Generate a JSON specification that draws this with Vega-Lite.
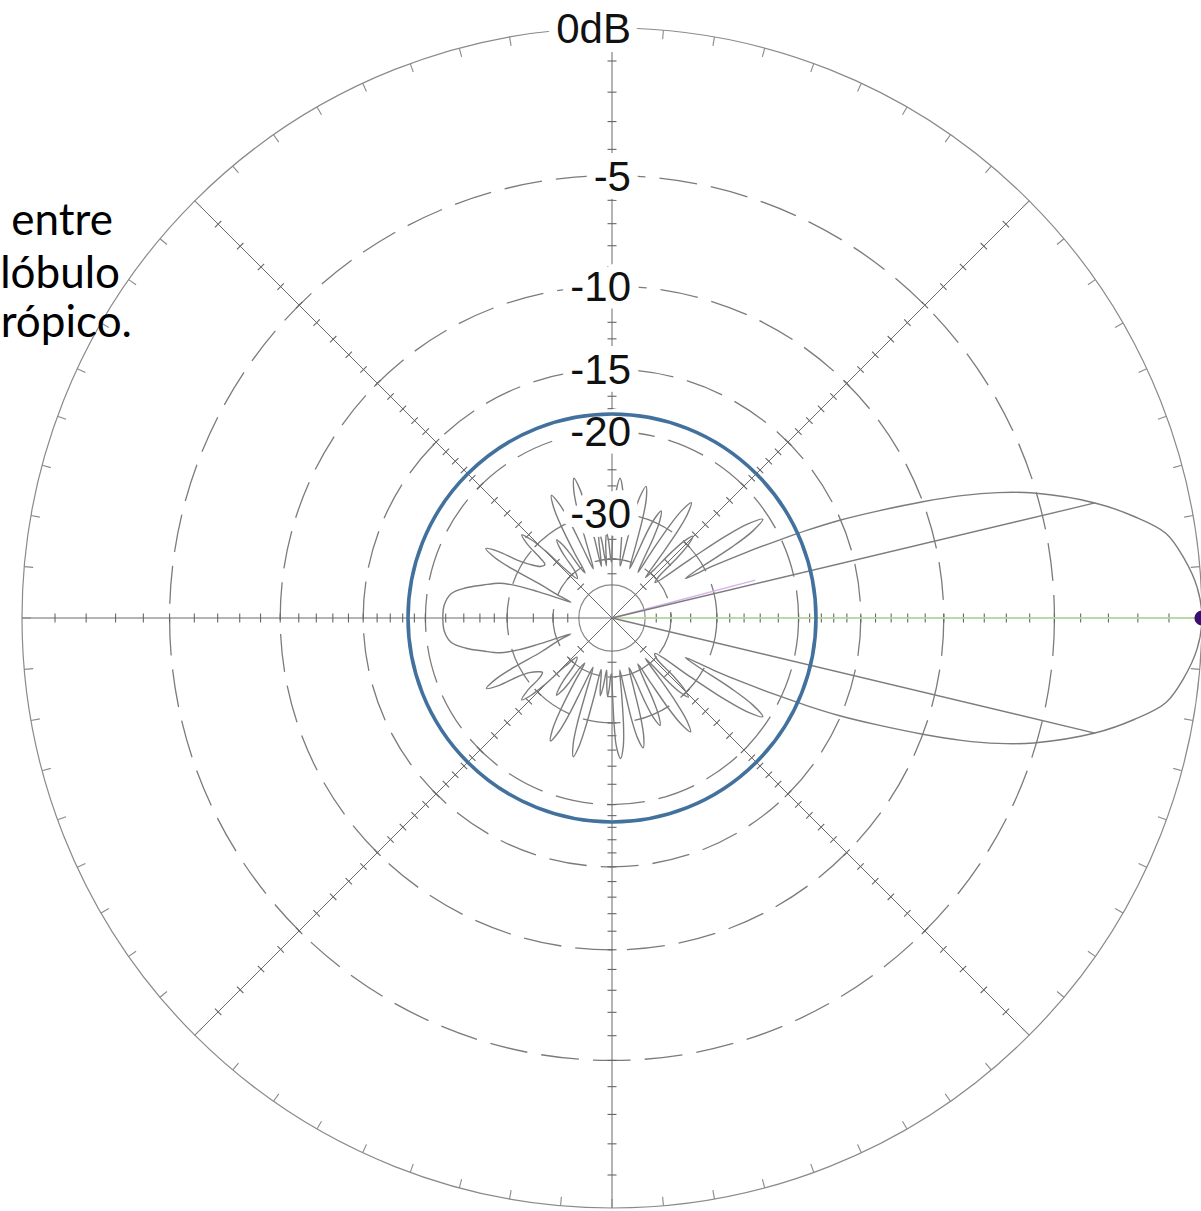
{
  "$schema": "https://vega.github.io/schema/vega-lite/v6.json",
  "width": 1201,
  "height": 1211,
  "autosize": {"type": "none"},
  "padding": 0,
  "background": "white",
  "config": {"view": {"stroke": null}},
  "datasets": {
    "pattern": [
      {"angle": -180, "db": -21.7}, {"angle": -175.5, "db": -21.8}, {"angle": -171.3, "db": -22.4}, {"angle": -168.3, "db": -23.9},
      {"angle": -165.6, "db": -25.9}, {"angle": -162.8, "db": -28}, {"angle": -161.2, "db": -31}, {"angle": -160.4, "db": -35},
      {"angle": -159.8, "db": -40}, {"angle": -159, "db": -45}, {"angle": -157, "db": -40}, {"angle": -154.4, "db": -35},
      {"angle": -153.3, "db": -29}, {"angle": -152.2, "db": -26}, {"angle": -150.7, "db": -24.5}, {"angle": -149.2, "db": -26},
      {"angle": -148.1, "db": -29}, {"angle": -146.5, "db": -31}, {"angle": -143.7, "db": -32.5}, {"angle": -142, "db": -33},
      {"angle": -140.4, "db": -31.9}, {"angle": -139.3, "db": -28.9}, {"angle": -137.8, "db": -27.4}, {"angle": -136.3, "db": -28.9},
      {"angle": -135.2, "db": -31.9}, {"angle": -134.1, "db": -37.9}, {"angle": -131.7, "db": -42}, {"angle": -128.9, "db": -40},
      {"angle": -127.8, "db": -35}, {"angle": -127, "db": -33.1}, {"angle": -125.7, "db": -31.7}, {"angle": -124.4, "db": -33.1},
      {"angle": -123.6, "db": -35}, {"angle": -122.7, "db": -40}, {"angle": -121.1, "db": -42}, {"angle": -120.3, "db": -35.8},
      {"angle": -119.2, "db": -29.8}, {"angle": -118.1, "db": -26.8}, {"angle": -116.6, "db": -25.3}, {"angle": -115.1, "db": -26.8},
      {"angle": -114, "db": -29.8}, {"angle": -112.9, "db": -35.8}, {"angle": -111.1, "db": -42}, {"angle": -109.3, "db": -35},
      {"angle": -108.2, "db": -29}, {"angle": -107.1, "db": -26}, {"angle": -105.6, "db": -24.5}, {"angle": -104.4, "db": -26},
      {"angle": -103.6, "db": -29}, {"angle": -102.8, "db": -35}, {"angle": -102, "db": -42}, {"angle": -100.6, "db": -40},
      {"angle": -99.6, "db": -37}, {"angle": -98.5, "db": -35}, {"angle": -97.4, "db": -37}, {"angle": -96.6, "db": -40},
      {"angle": -95.9, "db": -42}, {"angle": -95, "db": -40}, {"angle": -94.2, "db": -37}, {"angle": -93.2, "db": -35},
      {"angle": -92.2, "db": -37}, {"angle": -91.4, "db": -40}, {"angle": -90.6, "db": -41}, {"angle": -89.6, "db": -35.4},
      {"angle": -88.8, "db": -29.4}, {"angle": -88, "db": -26.4}, {"angle": -86.5, "db": -24.9}, {"angle": -85, "db": -26.4},
      {"angle": -83.9, "db": -29.4}, {"angle": -82.8, "db": -35.4}, {"angle": -81.5, "db": -42}, {"angle": -80.2, "db": -36.3},
      {"angle": -79.1, "db": -30.3}, {"angle": -78, "db": -27.3}, {"angle": -76.5, "db": -25.8}, {"angle": -75, "db": -27.3},
      {"angle": -73.9, "db": -30.3}, {"angle": -72.8, "db": -36.3}, {"angle": -71.2, "db": -42}, {"angle": -69.6, "db": -38.5},
      {"angle": -68.5, "db": -32.5}, {"angle": -67.4, "db": -29.5}, {"angle": -65.9, "db": -28}, {"angle": -64.4, "db": -29.5},
      {"angle": -63.3, "db": -32.5}, {"angle": -62.2, "db": -38.5}, {"angle": -60.6, "db": -42}, {"angle": -59.1, "db": -35.7},
      {"angle": -58, "db": -29.7}, {"angle": -56.9, "db": -26.7}, {"angle": -55.4, "db": -25.2}, {"angle": -53.9, "db": -26.7},
      {"angle": -52.8, "db": -29.7}, {"angle": -51.7, "db": -35.7}, {"angle": -50.7, "db": -42}, {"angle": -49.7, "db": -39.7},
      {"angle": -48.6, "db": -33.7}, {"angle": -47.5, "db": -30.7}, {"angle": -46, "db": -29.2}, {"angle": -44.5, "db": -30.7},
      {"angle": -43.4, "db": -33.7}, {"angle": -42.3, "db": -39.7}, {"angle": -39.6, "db": -41}, {"angle": -36.9, "db": -31.1},
      {"angle": -35.8, "db": -25.1}, {"angle": -34.7, "db": -22.1}, {"angle": -33.2, "db": -20.6}, {"angle": -31.7, "db": -22.1},
      {"angle": -30.6, "db": -25.1}, {"angle": -29.5, "db": -31.1}, {"angle": -28.3, "db": -34}, {"angle": -27.2, "db": -28.5},
      {"angle": -26.1, "db": -24}, {"angle": -25, "db": -20.2}, {"angle": -24.2, "db": -17.6}, {"angle": -23.2, "db": -15},
      {"angle": -21.9, "db": -12.5}, {"angle": -20.5, "db": -10}, {"angle": -19.3, "db": -8.1}, {"angle": -18, "db": -6.5},
      {"angle": -16.5, "db": -5.1}, {"angle": -13.4, "db": -3}, {"angle": -11, "db": -1.8}, {"angle": -8.7, "db": -0.9},
      {"angle": -6, "db": -0.45}, {"angle": -3, "db": -0.12}, {"angle": 0, "db": 0},
      {"angle": 3, "db": -0.12}, {"angle": 6, "db": -0.45}, {"angle": 8.7, "db": -0.9}, {"angle": 11, "db": -1.8},
      {"angle": 13.4, "db": -3}, {"angle": 16.5, "db": -5.1}, {"angle": 18, "db": -6.5}, {"angle": 19.3, "db": -8.1},
      {"angle": 20.5, "db": -10}, {"angle": 21.9, "db": -12.5}, {"angle": 23.2, "db": -15}, {"angle": 24.2, "db": -17.6},
      {"angle": 25, "db": -20.2}, {"angle": 26.1, "db": -24}, {"angle": 27.2, "db": -28.5}, {"angle": 28.3, "db": -34},
      {"angle": 29.5, "db": -31.1}, {"angle": 30.6, "db": -25.1}, {"angle": 31.7, "db": -22.1}, {"angle": 33.2, "db": -20.6},
      {"angle": 34.7, "db": -22.1}, {"angle": 35.8, "db": -25.1}, {"angle": 36.9, "db": -31.1}, {"angle": 39.5, "db": -41},
      {"angle": 41.6, "db": -38.9}, {"angle": 42.7, "db": -32.9}, {"angle": 43.8, "db": -29.9}, {"angle": 45.3, "db": -28.4},
      {"angle": 46.8, "db": -29.9}, {"angle": 47.9, "db": -32.9}, {"angle": 49, "db": -38.9}, {"angle": 50.4, "db": -42},
      {"angle": 51.8, "db": -35.5}, {"angle": 52.9, "db": -29.5}, {"angle": 54, "db": -26.5}, {"angle": 55.5, "db": -25},
      {"angle": 57, "db": -26.5}, {"angle": 58.1, "db": -29.5}, {"angle": 59.2, "db": -35.5}, {"angle": 60.4, "db": -42},
      {"angle": 61.6, "db": -38.5}, {"angle": 62.7, "db": -32.5}, {"angle": 63.8, "db": -29.5}, {"angle": 65.3, "db": -28},
      {"angle": 66.8, "db": -29.5}, {"angle": 67.9, "db": -32.5}, {"angle": 69, "db": -38.5}, {"angle": 70.4, "db": -42},
      {"angle": 71.8, "db": -36}, {"angle": 72.9, "db": -30}, {"angle": 74, "db": -27}, {"angle": 75.5, "db": -25.5},
      {"angle": 77, "db": -27}, {"angle": 78.1, "db": -30}, {"angle": 79.2, "db": -36}, {"angle": 81.1, "db": -42},
      {"angle": 83, "db": -35.5}, {"angle": 84.1, "db": -29.5}, {"angle": 85.2, "db": -26.5}, {"angle": 86.7, "db": -25},
      {"angle": 88, "db": -26.5}, {"angle": 88.9, "db": -29.5}, {"angle": 89.7, "db": -35.5}, {"angle": 90.5, "db": -41},
      {"angle": 91.6, "db": -39}, {"angle": 92.5, "db": -35.5}, {"angle": 93.6, "db": -33.5}, {"angle": 94.7, "db": -35.5},
      {"angle": 95.4, "db": -39}, {"angle": 96.1, "db": -42}, {"angle": 96.9, "db": -39}, {"angle": 97.6, "db": -35},
      {"angle": 98.6, "db": -33}, {"angle": 99.6, "db": -35}, {"angle": 100.5, "db": -39}, {"angle": 101.7, "db": -42},
      {"angle": 102.4, "db": -34.9}, {"angle": 103.2, "db": -28.9}, {"angle": 104, "db": -25.9}, {"angle": 105.2, "db": -24.4},
      {"angle": 106.7, "db": -25.9}, {"angle": 107.8, "db": -28.9}, {"angle": 108.9, "db": -34.9}, {"angle": 110.8, "db": -42},
      {"angle": 112.6, "db": -35.9}, {"angle": 113.7, "db": -29.9}, {"angle": 114.8, "db": -26.9}, {"angle": 116.3, "db": -25.4},
      {"angle": 117.8, "db": -26.9}, {"angle": 118.9, "db": -29.9}, {"angle": 120, "db": -35.9}, {"angle": 120.8, "db": -42},
      {"angle": 122.3, "db": -40}, {"angle": 123.2, "db": -35}, {"angle": 124, "db": -33}, {"angle": 125.3, "db": -31.6},
      {"angle": 126.6, "db": -33}, {"angle": 127.4, "db": -35}, {"angle": 128.5, "db": -40}, {"angle": 131.3, "db": -42},
      {"angle": 133.7, "db": -37.8}, {"angle": 134.8, "db": -31.8}, {"angle": 135.9, "db": -28.8}, {"angle": 137.4, "db": -27.3},
      {"angle": 138.9, "db": -28.8}, {"angle": 140, "db": -31.8}, {"angle": 141.5, "db": -33.5}, {"angle": 144.3, "db": -33},
      {"angle": 147, "db": -31}, {"angle": 148.6, "db": -29}, {"angle": 149.7, "db": -26}, {"angle": 151.2, "db": -24.5},
      {"angle": 152.7, "db": -26}, {"angle": 153.8, "db": -29}, {"angle": 154.9, "db": -35}, {"angle": 157, "db": -40},
      {"angle": 159, "db": -45}, {"angle": 159.8, "db": -40}, {"angle": 160.4, "db": -35}, {"angle": 161.2, "db": -31},
      {"angle": 162.8, "db": -28}, {"angle": 165.6, "db": -25.9}, {"angle": 168.3, "db": -23.9}, {"angle": 171.3, "db": -22.4},
      {"angle": 175.5, "db": -21.8}, {"angle": 180, "db": -21.7}
    ],
    "dashedRings": [{"db": -5}, {"db": -10}, {"db": -15}, {"db": -20}, {"db": -30}, {"db": -40}],
    "solidRings": [{"db": 0}, {"db": -50}],
    "spokes": [{"angle": 0}, {"angle": 45}, {"angle": 90}, {"angle": 135}, {"angle": 180}, {"angle": 225}, {"angle": 270}, {"angle": 315}],
    "axisTicks": [
      {"angle": 0, "db": [-1, -2, -3, -4, -5, -6, -7, -8, -9, -10, -11, -12, -13, -14, -15, -16, -17, -18, -19, -20, -22, -24, -26, -28, -30, -35, -40, -45]},
      {"angle": 45, "db": [-1, -2, -3, -4, -5, -6, -7, -8, -9, -10, -11, -12, -13, -14, -15, -16, -17, -18, -19, -20, -22, -24, -26, -28, -30, -35, -40, -45]},
      {"angle": 90, "db": [-1, -2, -3, -4, -5, -6, -7, -8, -9, -10, -11, -12, -13, -14, -15, -16, -17, -18, -19, -20, -22, -24, -26, -28, -30, -35, -40, -45]},
      {"angle": 135, "db": [-1, -2, -3, -4, -5, -6, -7, -8, -9, -10, -11, -12, -13, -14, -15, -16, -17, -18, -19, -20, -22, -24, -26, -28, -30, -35, -40, -45]},
      {"angle": 180, "db": [-1, -2, -3, -4, -5, -6, -7, -8, -9, -10, -11, -12, -13, -14, -15, -16, -17, -18, -19, -20, -22, -24, -26, -28, -30, -35, -40, -45]},
      {"angle": 225, "db": [-1, -2, -3, -4, -5, -6, -7, -8, -9, -10, -11, -12, -13, -14, -15, -16, -17, -18, -19, -20, -22, -24, -26, -28, -30, -35, -40, -45]},
      {"angle": 270, "db": [-1, -2, -3, -4, -5, -6, -7, -8, -9, -10, -11, -12, -13, -14, -15, -16, -17, -18, -19, -20, -22, -24, -26, -28, -30, -35, -40, -45]},
      {"angle": 315, "db": [-1, -2, -3, -4, -5, -6, -7, -8, -9, -10, -11, -12, -13, -14, -15, -16, -17, -18, -19, -20, -22, -24, -26, -28, -30, -35, -40, -45]}
    ],
    "rimTicks": [
      {"angle": [0, 5, 10, 15, 20, 25, 30, 35, 40, 45, 50, 55, 60, 65, 70, 75, 80, 85, 90, 95, 100, 105, 110, 115, 120, 125, 130, 135, 140, 145, 150, 155, 160, 165, 170, 175, 180, 185, 190, 195, 200, 205, 210, 215, 220, 225, 230, 235, 240, 245, 250, 255, 260, 265, 270, 275, 280, 285, 290, 295, 300, 305, 310, 315, 320, 325, 330, 335, 340, 345, 350, 355]}
    ],
    "levelLabels": [
      {"db": 0, "label": "0dB"}, {"db": -5, "label": "-5"}, {"db": -10, "label": "-10"},
      {"db": -15, "label": "-15"}, {"db": -20, "label": "-20"}, {"db": -30, "label": "-30"}
    ]
  },
  "layer": [
    {
      "data": {"name": "dashedRings"},
      "transform": [{"calculate": "pow(10, datum.db / 40)", "as": "amp"}],
      "mark": {"type": "point", "shape": "circle", "filled": false, "stroke": "#7b7b7b", "strokeWidth": 1.3, "strokeDash": [38, 14], "opacity": 1},
      "encoding": {
        "x": {"datum": 0, "type": "quantitative", "scale": {"domain": [-1.037288, 0.998305], "nice": false, "zero": false}, "axis": null},
        "y": {"datum": 0, "type": "quantitative", "scale": {"domain": [-1.005085, 1.047458], "nice": false, "zero": false}, "axis": null},
        "size": {"field": "amp", "type": "quantitative", "scale": {"type": "pow", "exponent": 2, "domain": [0, 1], "range": [0, 1392400], "nice": false}, "legend": null}
      }
    },
    {
      "data": {"name": "solidRings"},
      "transform": [{"calculate": "pow(10, datum.db / 40)", "as": "amp"}],
      "mark": {"type": "point", "shape": "circle", "filled": false, "stroke": "#8a8a8a", "strokeWidth": 1.2, "opacity": 1},
      "encoding": {
        "x": {"datum": 0, "type": "quantitative", "scale": {"domain": [-1.037288, 0.998305], "nice": false, "zero": false}, "axis": null},
        "y": {"datum": 0, "type": "quantitative", "scale": {"domain": [-1.005085, 1.047458], "nice": false, "zero": false}, "axis": null},
        "size": {"field": "amp", "type": "quantitative", "scale": {"type": "pow", "exponent": 2, "domain": [0, 1], "range": [0, 1392400], "nice": false}, "legend": null}
      }
    },
    {
      "data": {"name": "spokes"},
      "transform": [
        {"calculate": "cos(datum.angle * PI / 180)", "as": "x"},
        {"calculate": "sin(datum.angle * PI / 180)", "as": "y"}
      ],
      "mark": {"type": "rule", "stroke": "#6a6a6a", "strokeWidth": 1},
      "encoding": {
        "x": {"field": "x", "type": "quantitative", "scale": {"domain": [-1.037288, 0.998305], "nice": false, "zero": false}, "axis": null},
        "y": {"field": "y", "type": "quantitative", "scale": {"domain": [-1.005085, 1.047458], "nice": false, "zero": false}, "axis": null},
        "x2": {"datum": 0},
        "y2": {"datum": 0}
      }
    },
    {
      "data": {"name": "axisTicks"},
      "transform": [
        {"flatten": ["db"]},
        {"calculate": "pow(10, datum.db / 40)", "as": "amp"},
        {"calculate": "datum.amp * cos(datum.angle * PI / 180)", "as": "x"},
        {"calculate": "datum.amp * sin(datum.angle * PI / 180)", "as": "y"}
      ],
      "mark": {"type": "point", "shape": "M0,-1L0,1", "filled": false, "size": 81, "stroke": "#666666", "strokeWidth": 1.1, "opacity": 1},
      "encoding": {
        "x": {"field": "x", "type": "quantitative", "scale": {"domain": [-1.037288, 0.998305], "nice": false, "zero": false}, "axis": null},
        "y": {"field": "y", "type": "quantitative", "scale": {"domain": [-1.005085, 1.047458], "nice": false, "zero": false}, "axis": null},
        "angle": {"field": "angle", "type": "quantitative", "scale": {"domain": [0, 360], "range": [360, 0]}, "legend": null}
      }
    },
    {
      "data": {"name": "rimTicks"},
      "transform": [
        {"flatten": ["angle"]},
        {"calculate": "cos(datum.angle * PI / 180)", "as": "x"},
        {"calculate": "sin(datum.angle * PI / 180)", "as": "y"}
      ],
      "mark": {"type": "point", "shape": "M0,0L-1,0", "filled": false, "size": 324, "stroke": "#8a8a8a", "strokeWidth": 1.1, "opacity": 1},
      "encoding": {
        "x": {"field": "x", "type": "quantitative", "scale": {"domain": [-1.037288, 0.998305], "nice": false, "zero": false}, "axis": null},
        "y": {"field": "y", "type": "quantitative", "scale": {"domain": [-1.005085, 1.047458], "nice": false, "zero": false}, "axis": null},
        "angle": {"field": "angle", "type": "quantitative", "scale": {"domain": [0, 360], "range": [360, 0]}, "legend": null}
      }
    },
    {
      "data": {"values": [{"angle": 0, "db": 0}]},
      "transform": [
        {"calculate": "pow(10, datum.db / 40)", "as": "amp"},
        {"calculate": "datum.amp * cos(datum.angle * PI / 180)", "as": "x"},
        {"calculate": "datum.amp * sin(datum.angle * PI / 180)", "as": "y"}
      ],
      "mark": {"type": "rule", "stroke": "#bfe0a6", "strokeWidth": 2.2, "opacity": 0.8},
      "encoding": {
        "x": {"field": "x", "type": "quantitative", "scale": {"domain": [-1.037288, 0.998305], "nice": false, "zero": false}, "axis": null},
        "y": {"field": "y", "type": "quantitative", "scale": {"domain": [-1.005085, 1.047458], "nice": false, "zero": false}, "axis": null},
        "x2": {"datum": 0},
        "y2": {"datum": 0}
      }
    },
    {
      "data": {"values": [{"angle": 14.8, "db": -24}]},
      "transform": [
        {"calculate": "pow(10, datum.db / 40)", "as": "amp"},
        {"calculate": "datum.amp * cos(datum.angle * PI / 180)", "as": "x"},
        {"calculate": "datum.amp * sin(datum.angle * PI / 180)", "as": "y"}
      ],
      "mark": {"type": "rule", "stroke": "#d7b2ea", "strokeWidth": 1.5},
      "encoding": {
        "x": {"field": "x", "type": "quantitative", "scale": {"domain": [-1.037288, 0.998305], "nice": false, "zero": false}, "axis": null},
        "y": {"field": "y", "type": "quantitative", "scale": {"domain": [-1.005085, 1.047458], "nice": false, "zero": false}, "axis": null},
        "x2": {"datum": 0},
        "y2": {"datum": 0}
      }
    },
    {
      "data": {"name": "pattern"},
      "transform": [
        {"calculate": "pow(10, datum.db / 40)", "as": "amp"},
        {"calculate": "datum.amp * cos(datum.angle * PI / 180)", "as": "x"},
        {"calculate": "datum.amp * sin(datum.angle * PI / 180)", "as": "y"}
      ],
      "mark": {"type": "line", "interpolate": "catmull-rom", "stroke": "#7c7c7c", "strokeWidth": 1.4},
      "encoding": {
        "x": {"field": "x", "type": "quantitative", "scale": {"domain": [-1.037288, 0.998305], "nice": false, "zero": false}, "axis": null},
        "y": {"field": "y", "type": "quantitative", "scale": {"domain": [-1.005085, 1.047458], "nice": false, "zero": false}, "axis": null},
        "order": {"field": "angle", "type": "quantitative"}
      }
    },
    {
      "data": {"values": [{"angle": 13.4, "db": -3}, {"angle": -13.4, "db": -3}]},
      "transform": [
        {"calculate": "pow(10, datum.db / 40)", "as": "amp"},
        {"calculate": "datum.amp * cos(datum.angle * PI / 180)", "as": "x"},
        {"calculate": "datum.amp * sin(datum.angle * PI / 180)", "as": "y"}
      ],
      "mark": {"type": "rule", "stroke": "#7c7c7c", "strokeWidth": 1.3},
      "encoding": {
        "x": {"field": "x", "type": "quantitative", "scale": {"domain": [-1.037288, 0.998305], "nice": false, "zero": false}, "axis": null},
        "y": {"field": "y", "type": "quantitative", "scale": {"domain": [-1.005085, 1.047458], "nice": false, "zero": false}, "axis": null},
        "x2": {"datum": 0},
        "y2": {"datum": 0}
      }
    },
    {
      "data": {"name": "levelLabels"},
      "transform": [{"calculate": "pow(10, datum.db / 40)", "as": "amp"}],
      "mark": {"type": "text", "align": "right", "baseline": "alphabetic", "dy": 15, "font": "Liberation Sans", "fontSize": 42, "fill": "white", "stroke": "white", "strokeWidth": 18, "strokeJoin": "round"},
      "encoding": {
        "x": {"datum": 0.0322, "type": "quantitative", "scale": {"domain": [-1.037288, 0.998305], "nice": false, "zero": false}, "axis": null},
        "y": {"field": "amp", "type": "quantitative", "scale": {"domain": [-1.005085, 1.047458], "nice": false, "zero": false}, "axis": null},
        "text": {"field": "label", "type": "nominal"}
      }
    },
    {
      "data": {"name": "levelLabels"},
      "transform": [{"calculate": "pow(10, datum.db / 40)", "as": "amp"}],
      "mark": {"type": "text", "align": "right", "baseline": "alphabetic", "dy": 15, "font": "Liberation Sans", "fontSize": 42, "fill": "#111111"},
      "encoding": {
        "x": {"datum": 0.0322, "type": "quantitative", "scale": {"domain": [-1.037288, 0.998305], "nice": false, "zero": false}, "axis": null},
        "y": {"field": "amp", "type": "quantitative", "scale": {"domain": [-1.005085, 1.047458], "nice": false, "zero": false}, "axis": null},
        "text": {"field": "label", "type": "nominal"}
      }
    },
    {
      "data": {"values": [{"db": -18.45}]},
      "transform": [{"calculate": "pow(10, datum.db / 40)", "as": "amp"}],
      "mark": {"type": "point", "shape": "circle", "filled": false, "stroke": "#41719c", "strokeWidth": 3.6, "opacity": 1},
      "encoding": {
        "x": {"datum": 0, "type": "quantitative", "scale": {"domain": [-1.037288, 0.998305], "nice": false, "zero": false}, "axis": null},
        "y": {"datum": 0, "type": "quantitative", "scale": {"domain": [-1.005085, 1.047458], "nice": false, "zero": false}, "axis": null},
        "size": {"field": "amp", "type": "quantitative", "scale": {"type": "pow", "exponent": 2, "domain": [0, 1], "range": [0, 1392400], "nice": false}, "legend": null}
      }
    },
    {
      "data": {"values": [{"angle": 0, "db": 0}]},
      "transform": [
        {"calculate": "pow(10, datum.db / 40)", "as": "amp"},
        {"calculate": "datum.amp * cos(datum.angle * PI / 180)", "as": "x"},
        {"calculate": "datum.amp * sin(datum.angle * PI / 180)", "as": "y"}
      ],
      "mark": {"type": "point", "filled": true, "fill": "#3a0f72", "size": 230, "opacity": 1},
      "encoding": {
        "x": {"field": "x", "type": "quantitative", "scale": {"domain": [-1.037288, 0.998305], "nice": false, "zero": false}, "axis": null},
        "y": {"field": "y", "type": "quantitative", "scale": {"domain": [-1.005085, 1.047458], "nice": false, "zero": false}, "axis": null}
      }
    },
    {
      "data": {"values": [{"text": "entre"}]},
      "mark": {"type": "text", "align": "right", "baseline": "alphabetic", "font": "Lato", "fontSize": 44, "fill": "#000000"},
      "encoding": {
        "x": {"datum": -0.8458, "type": "quantitative", "scale": {"domain": [-1.037288, 0.998305], "nice": false, "zero": false}, "axis": null},
        "y": {"datum": 0.6492, "type": "quantitative", "scale": {"domain": [-1.005085, 1.047458], "nice": false, "zero": false}, "axis": null},
        "text": {"field": "text", "type": "nominal"}
      }
    },
    {
      "data": {"values": [{"text": "lóbulo"}]},
      "mark": {"type": "text", "align": "right", "baseline": "alphabetic", "font": "Lato", "fontSize": 44, "fill": "#000000"},
      "encoding": {
        "x": {"datum": -0.8339, "type": "quantitative", "scale": {"domain": [-1.037288, 0.998305], "nice": false, "zero": false}, "axis": null},
        "y": {"datum": 0.5593, "type": "quantitative", "scale": {"domain": [-1.005085, 1.047458], "nice": false, "zero": false}, "axis": null},
        "text": {"field": "text", "type": "nominal"}
      }
    },
    {
      "data": {"values": [{"text": "rópico."}]},
      "mark": {"type": "text", "align": "right", "baseline": "alphabetic", "font": "Lato", "fontSize": 44, "fill": "#000000"},
      "encoding": {
        "x": {"datum": -0.8136, "type": "quantitative", "scale": {"domain": [-1.037288, 0.998305], "nice": false, "zero": false}, "axis": null},
        "y": {"datum": 0.4763, "type": "quantitative", "scale": {"domain": [-1.005085, 1.047458], "nice": false, "zero": false}, "axis": null},
        "text": {"field": "text", "type": "nominal"}
      }
    }
  ]
}
